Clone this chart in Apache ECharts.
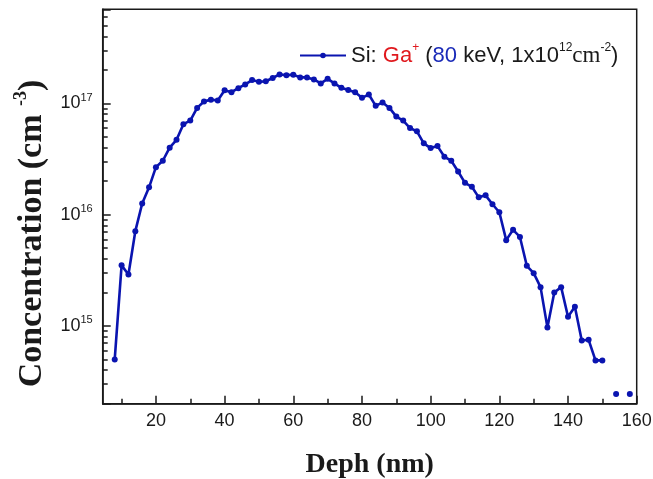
<!DOCTYPE html>
<html>
<head>
<meta charset="utf-8">
<script src="https://cdn.jsdelivr.net/npm/echarts@6/dist/echarts.min.js"></script>
<style>
html, body { margin: 0; padding: 0; background: #fff; }
#chart { width: 653px; height: 479px; }
</style>
</head>
<body>
<div id="chart"></div>
<script>
// depth in nm, concentration in cm^-3 (null = nothing measured)
const depth = [8, 10, 12, 14, 16, 18, 20, 22, 24, 26, 28, 30, 32, 34, 36, 38, 40, 42, 44, 46,
  48, 50, 52, 54, 56, 58, 60, 62, 64, 66, 68, 70, 72, 74, 76, 78, 80, 82, 84, 86,
  88, 90, 92, 94, 96, 98, 100, 102, 104, 106, 108, 110, 112, 114, 116, 118, 120, 122, 124, 126,
  128, 130, 132, 134, 136, 138, 140, 142, 144, 146, 148, 150, 152, 154, 156, 158];
const conc = [5.0e14, 3.5e15, 2.9e15, 7.1e15, 1.26e16, 1.76e16, 2.67e16, 3.05e16, 4.0e16, 4.7e16,
  6.5e16, 7.0e16, 9.1e16, 1.04e17, 1.08e17, 1.06e17, 1.31e17, 1.26e17, 1.37e17, 1.48e17,
  1.62e17, 1.56e17, 1.58e17, 1.69e17, 1.82e17, 1.79e17, 1.81e17, 1.71e17, 1.71e17, 1.64e17,
  1.51e17, 1.66e17, 1.51e17, 1.38e17, 1.32e17, 1.26e17, 1.12e17, 1.2e17, 9.5e16, 1.02e17,
  9.1e16, 7.6e16, 7.0e16, 6.0e16, 5.6e16, 4.37e16, 3.96e16, 4.13e16, 3.31e16, 3.05e16,
  2.44e16, 1.93e16, 1.78e16, 1.43e16, 1.49e16, 1.24e16, 1.05e16, 5.9e15, 7.3e15, 6.3e15,
  3.47e15, 2.98e15, 2.23e15, 9.7e14, 2.0e15, 2.23e15, 1.21e15, 1.49e15, 7.4e14, 7.5e14,
  4.9e14, 4.9e14, null, 2.45e14, null, 2.45e14];

const xMajorTicks = [20, 40, 60, 80, 100, 120, 140, 160];
const xMinorTicks = [10, 30, 50, 70, 90, 110, 130, 150];
const yDecades = [14, 15, 16, 17];
const yMinorSteps = [2, 3, 4, 5, 6, 7, 8, 9];

const xMin = 4.5, xMax = 160;
const yMin = 2e14, yMax = 7e17;

const sans = "'Liberation Sans', Arial, sans-serif";
const serif = "'Liberation Serif', 'Times New Roman', serif";
const blue = '#0a14b0';
const ink = '#1a1a1a';

let points = [];
for (let i = 0; i < depth.length; i++) {
  points.push([depth[i], conc[i] === null ? '-' : conc[i]]);
}

// minor log ticks, placed on an overlaid linear axis in log10 units
let minorLog = [];
for (let d of yDecades) {
  for (let k of yMinorSteps) {
    let v = Math.log10(k) + d;
    if (v > Math.log10(yMin) && v < Math.log10(yMax)) minorLog.push(v);
  }
}

let myChart = echarts.init(document.getElementById('chart'));
let option = {
  animation: false,
  grid: {
    left: 102.7,
    right: 16.3,
    top: 9.3,
    bottom: 75.3,
    outerBoundsMode: 'none',
    show: true,
    borderColor: ink,
    borderWidth: 1.5,
  },
  legend: {
    data: ['Si'],
    left: 299,
    top: 42,
    padding: 0,
    itemWidth: 46,
    itemHeight: 7,
    itemGap: 4,
    formatter: function () {
      return '{n|Si: }{r|Ga}{rs|+}{n| (}{b|80}{n| keV, 1x10}{s|12}{t|cm}{s|-2}{n|)}';
    },
    textStyle: {
      fontFamily: sans,
      fontSize: 22,
      color: ink,
      rich: {
        n: { fontFamily: sans, fontSize: 22, color: ink, lineHeight: 27 },
        r: { fontFamily: sans, fontSize: 22, color: '#e0191e', lineHeight: 27 },
        rs: { fontFamily: sans, fontSize: 12, color: '#e0191e', lineHeight: 14, verticalAlign: 'top' },
        b: { fontFamily: sans, fontSize: 22, color: '#1a2ab8', lineHeight: 27 },
        s: { fontFamily: sans, fontSize: 12, color: ink, lineHeight: 14, verticalAlign: 'top' },
        t: { fontFamily: serif, fontSize: 23, color: ink, lineHeight: 27 },
      },
    },
  },
  xAxis: [
    {
      type: 'value',
      min: xMin,
      max: xMax,
      position: 'bottom',
      axisLine: { show: true, lineStyle: { color: ink, width: 1.6 } },
      axisTick: { show: true, inside: true, length: 8, customValues: xMajorTicks, lineStyle: { color: ink, width: 1.5 } },
      axisLabel: { customValues: xMajorTicks, fontFamily: sans, fontSize: 18, color: ink, margin: 8 },
      splitLine: { show: false },
      name: 'Deph (nm)',
      nameLocation: 'middle',
      nameGap: 47,
      nameTextStyle: { fontFamily: serif, fontWeight: 'bold', fontSize: 28, color: ink },
    },
    {
      type: 'value',
      min: xMin,
      max: xMax,
      position: 'bottom',
      axisLine: { show: false },
      axisTick: { show: true, inside: true, length: 5, customValues: xMinorTicks, lineStyle: { color: ink, width: 1.5 } },
      axisLabel: { show: false },
      splitLine: { show: false },
    },
  ],
  yAxis: [
    {
      type: 'log',
      logBase: 10,
      min: yMin,
      max: yMax,
      position: 'left',
      axisLine: { show: true, lineStyle: { color: ink, width: 1.6 } },
      axisTick: { show: true, inside: true, length: 8, lineStyle: { color: ink, width: 1.5 } },
      axisLabel: {
        margin: 10,
        formatter: function (v) {
          let e = Math.log10(v);
          if (Math.abs(e - Math.round(e)) > 1e-6) return '';
          return '{m|10}{e|' + Math.round(e) + '}';
        },
        rich: {
          m: { fontFamily: sans, fontSize: 18, color: ink, lineHeight: 22 },
          e: { fontFamily: sans, fontSize: 11, color: ink, lineHeight: 12, verticalAlign: 'top' },
        },
      },
      splitLine: { show: false },
      name: '{a|Concentration (cm }{s|-3}{a|)}',
      nameLocation: 'middle',
      nameRotate: 90,
      nameGap: 47,
      nameTextStyle: {
        padding: [0, 54, 0, 0],
        rich: {
          a: { fontFamily: serif, fontWeight: 'bold', fontSize: 34, color: ink, lineHeight: 40 },
          s: { fontFamily: serif, fontWeight: 'bold', fontSize: 18, color: ink, lineHeight: 18, verticalAlign: 'top' },
        },
      },
    },
    {
      type: 'value',
      min: Math.log10(yMin),
      max: Math.log10(yMax),
      position: 'left',
      axisLine: { show: false },
      axisTick: { show: true, inside: true, length: 5, customValues: minorLog, lineStyle: { color: ink, width: 1.5 } },
      axisLabel: { show: false },
      splitLine: { show: false },
    },
  ],
  series: [
    {
      name: 'Si',
      type: 'line',
      xAxisIndex: 0,
      yAxisIndex: 0,
      data: points,
      connectNulls: false,
      symbol: 'circle',
      symbolSize: 6,
      showAllSymbol: true,
      lineStyle: { color: blue, width: 2.6 },
      itemStyle: { color: blue },
    },
  ],
};
myChart.setOption(option);
</script>
</body>
</html>
